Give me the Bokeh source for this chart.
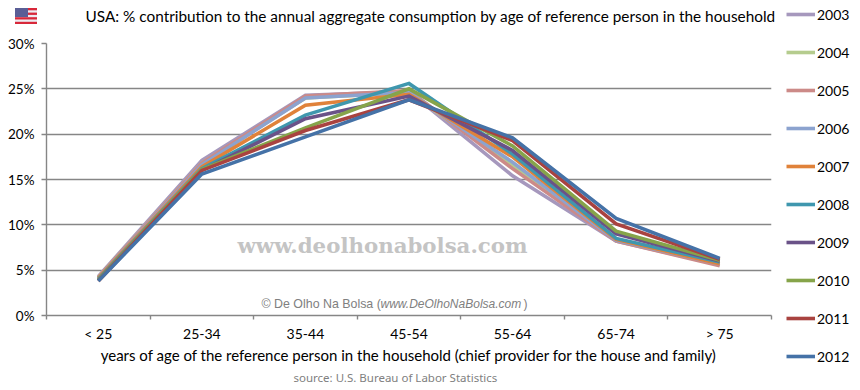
from bokeh.plotting import figure
from bokeh.models import (FixedTicker, Legend, LegendItem, Label, Range1d, PrintfTickFormatter,
                          Div, Title)
from bokeh.embed import file_html
from bokeh.resources import INLINE

categories = ["< 25", "25-34", "35-44", "45-54", "55-64", "65-74", "> 75"]
y_ticks = [0, 5, 10, 15, 20, 25, 30]

s2003 = [4.3, 17.1, 24.3, 24.7, 15.4, 8.2, 5.6]
s2004 = [4.2, 16.8, 24.0, 24.6, 16.5, 8.3, 5.7]
s2005 = [4.2, 16.8, 24.2, 24.8, 16.2, 8.2, 5.5]
s2006 = [4.1, 16.6, 24.0, 24.6, 16.9, 8.3, 5.7]
s2007 = [4.1, 16.4, 23.2, 24.4, 17.5, 8.4, 5.7]
s2008 = [4.0, 16.2, 22.1, 25.6, 17.8, 8.5, 5.9]
s2009 = [3.9, 16.0, 21.7, 24.2, 18.2, 9.0, 6.0]
s2010 = [3.9, 16.1, 20.7, 25.0, 18.7, 9.3, 6.1]
s2011 = [3.8, 16.0, 20.4, 23.8, 19.3, 10.1, 6.2]
s2012 = [3.8, 15.6, 19.7, 23.8, 19.6, 10.7, 6.3]

years = ["2003", "2004", "2005", "2006", "2007", "2008", "2009", "2010", "2011", "2012"]
series = [s2003, s2004, s2005, s2006, s2007, s2008, s2009, s2010, s2011, s2012]
colors = ["#A698BD", "#B5CC8E", "#CC8A88", "#8CA3CF", "#E0823A",
          "#3F97AE", "#6A5288", "#86A44A", "#A94340", "#4572A7"]

title_text = "USA: % contribution to the annual aggregate consumption by age of reference person in the household"
xlabel_text = "years of age of the reference person in the household (chief provider for the house and family)"
source_text = "source: U.S. Bureau of Labor Statistics"
wm_text = "www.deolhonabolsa.com"

W, H = 860, 390
L, R, T, B = 46, 89, 43, 75
p = figure(output_backend="svg", toolbar_location=None,
           frame_width=W - L - R, frame_height=H - T - B,
           x_range=Range1d(-0.5, len(categories) - 0.5), y_range=Range1d(0, 30),
           min_border_left=L, min_border_right=R, min_border_top=T, min_border_bottom=B,
           outline_line_color=None, background_fill_color="white", border_fill_color="white")

FONT = "Lato"
INK = "#000000"
p.xgrid.visible = False
p.ygrid.ticker = FixedTicker(ticks=y_ticks)
p.ygrid.grid_line_color = "#868686"
p.ygrid.grid_line_width = 1.4

ax = p.yaxis[0]
ax.ticker = FixedTicker(ticks=y_ticks)
ax.formatter = PrintfTickFormatter(format="%d%%")
ax.axis_line_color = "#868686"
ax.axis_line_width = 1.4
ax.major_tick_line_color = "#868686"
ax.major_tick_in = 0
ax.major_tick_out = 5
ax.major_tick_line_width = 1.4
ax.minor_tick_line_color = None
ax.major_label_text_font = FONT
ax.major_label_text_font_size = "13.5px"
ax.major_label_text_color = INK
ax.major_label_standoff = 7

bx = p.xaxis[0]
bx.ticker = FixedTicker(ticks=list(range(len(categories))),
                        minor_ticks=[i - 0.5 for i in range(len(categories) + 1)])
bx.major_label_overrides = {i: c for i, c in enumerate(categories)}
bx.axis_line_color = "#868686"
bx.axis_line_width = 1.4
bx.major_tick_line_color = None
bx.minor_tick_line_color = "#868686"
bx.minor_tick_in = 0
bx.minor_tick_out = 4
bx.minor_tick_line_width = 1.4
bx.major_label_text_font = FONT
bx.major_label_text_font_size = "14px"
bx.major_label_text_color = INK
bx.major_label_standoff = 3
bx.axis_label = xlabel_text
bx.axis_label_text_font = FONT
bx.axis_label_text_font_size = "15px"
bx.axis_label_text_font_style = "normal"
bx.axis_label_text_color = INK
bx.axis_label_standoff = 1

xs = list(range(len(categories)))
items = []
for yr, vals, col in zip(years, series, colors):
    r = p.line(xs, vals, line_color=col, line_width=3.6, line_join="miter")
    items.append(LegendItem(label=yr, renderers=[r]))

legend = Legend(items=items, location=(15, -51), orientation="vertical",
                glyph_width=29, glyph_height=20, spacing=18, padding=0, margin=0,
                label_standoff=2, label_height=20,
                background_fill_alpha=0, border_line_color=None,
                label_text_font=FONT, label_text_font_size="14px", label_text_color=INK)
p.add_layout(legend, "right")

# an empty title keeps the real one clear of the plot's top edge
p.add_layout(Title(text=" ", text_font_size="1px", standoff=16), "above")
p.add_layout(Title(text=title_text, text_font=FONT, text_font_size="15.35px", text_font_style="normal",
                   text_color=INK, align="left", offset=39, standoff=0), "above")
p.add_layout(Title(text=source_text, text_font="Noto Sans", text_font_size="11.5px", text_font_style="normal",
                   text_color="#808080", align="left", offset=247, standoff=3), "below")

def put(text, x, y, **kw):
    # x, y in picture pixels from the top left; Bokeh measures from the frame's bottom left
    kw.setdefault("text_baseline", "middle")
    p.add_layout(Label(x=x - L, y=(H - B) - y, x_units="screen", y_units="screen", text=text, **kw))

put(wm_text, 382, 245, text_font="DejaVu Serif", text_font_size="21.3px", text_font_style="bold",
    text_color="#C4C4C4", text_align="center")
put("© De Olho Na Bolsa (", 261, 303, text_font="Liberation Sans", text_font_size="12.4px", text_color="#808080")
put("www.DeOlhoNaBolsa.com", 380, 303, text_font="Liberation Sans", text_font_size="12px",
    text_font_style="italic", text_color="#808080")
put(")", 523, 303, text_font="Liberation Sans", text_font_size="12px", text_color="#808080")

# flag ornament, top left, placed over the plot's canvas
stripes = "".join(f'<rect x="0" y="{i * 2.3 * 2:.1f}" width="22" height="2.3" fill="#D8283A"/>' for i in range(4))
flag_svg = ('<svg width="22" height="16" xmlns="http://www.w3.org/2000/svg">'
            '<rect width="22" height="16" fill="#ECECF2"/>' + stripes +
            '<rect width="13" height="9" fill="#5A5E96"/></svg>')
p.elements = [Div(text=flag_svg, styles={"position": "absolute", "left": "15px", "top": "8px", "z-index": "5"})]

open("out.html", "w").write(file_html(p, INLINE))
